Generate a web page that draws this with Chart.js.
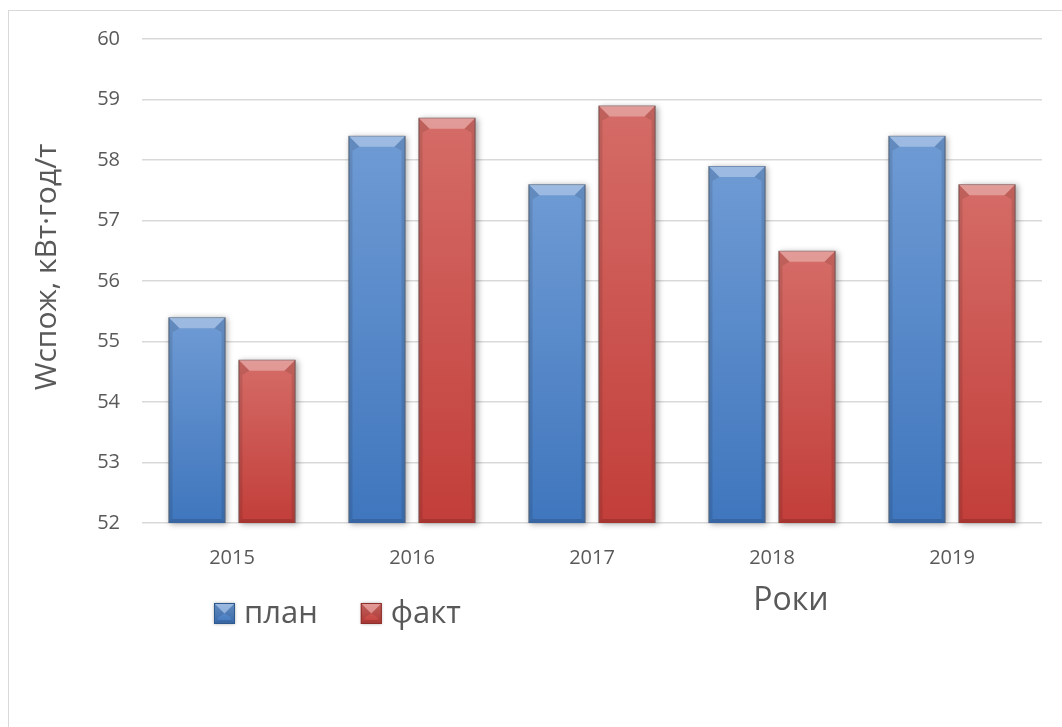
<!DOCTYPE html>
<html>
<head>
<meta charset="utf-8">
<script src="https://cdn.jsdelivr.net/npm/chart.js@4.4.1/dist/chart.umd.min.js"></script>
<style>
  html, body { margin: 0; padding: 0; background: #fff; overflow: hidden; }
  #wrap { position: relative; width: 1062px; height: 727px; }
  #frame { position: absolute; left: 8px; top: 10px; width: 1200px; height: 900px;
           border: 1.5px solid #d9d9d9; box-sizing: border-box; }
  canvas { position: absolute; left: 0; top: 0; }
</style>
</head>
<body>
<div id="wrap">
  <div id="frame"></div>
  <canvas id="c" width="1062" height="727"></canvas>
</div>
<script>
// Specific electricity consumption by year
const years = ['2015', '2016', '2017', '2018', '2019'];
const planValues = [55.4, 58.4, 57.6, 57.9, 58.4];
const factValues = [54.7, 58.7, 58.9, 56.5, 57.6];
const seriesNames = ['план', 'факт'];
const yMin = 52, yMax = 60, yStep = 1;
const yAxisTitle = 'Wспож, кВт·год/т';
const xAxisTitle = 'Роки';

const FONT = '"Open Sans", "Noto Sans", sans-serif';
const TEXT = '#595959';
const GRID = '#d9d9d9';

const palette = [
  { top: '#6f9bd4', bottom: '#3f76bd', border: '#2f588d' },
  { top: '#d56c67', bottom: '#c23e3a', border: '#8c2f2c' }
];

function barGradient(ctx, top, bottom, colors) {
  const g = ctx.createLinearGradient(0, top, 0, bottom);
  g.addColorStop(0, colors.top);
  g.addColorStop(1, colors.bottom);
  return g;
}

function scriptedFill(i) {
  return (c) => {
    const chart = c.chart;
    const pal = palette[i];
    if (!chart.chartArea || c.raw == null) return pal.bottom;
    const y = chart.scales.y;
    return barGradient(chart.ctx, y.getPixelForValue(c.raw), y.getPixelForValue(yMin), pal);
  };
}

// vertical extent of a bar, limited to the plot area
function barBox(chart, el) {
  const floor = chart.scales.y.getPixelForValue(yMin);
  return { l: el.x - el.width / 2, r: el.x + el.width / 2, t: el.y, b: Math.min(el.base, floor) };
}

// bevelled edges on top of each bar
function drawBevel(ctx, l, t, r, b) {
  const h = b - t, w = r - l;
  const tb = Math.min(11, h / 2, w / 2);
  const sb = Math.min(4, w / 4);
  const bb = Math.min(4, h / 4);
  ctx.save();
  ctx.fillStyle = 'rgba(255,255,255,0.32)';
  ctx.beginPath();
  ctx.moveTo(l, t); ctx.lineTo(r, t); ctx.lineTo(r - tb, t + tb); ctx.lineTo(l + tb, t + tb);
  ctx.closePath(); ctx.fill();
  ctx.fillStyle = 'rgba(0,0,0,0.10)';
  ctx.beginPath();
  ctx.moveTo(l, t); ctx.lineTo(l + tb, t + tb); ctx.lineTo(l + sb, t + tb + 4); ctx.lineTo(l + sb, b - bb); ctx.lineTo(l, b);
  ctx.closePath(); ctx.fill();
  ctx.beginPath();
  ctx.moveTo(r, t); ctx.lineTo(r - tb, t + tb); ctx.lineTo(r - sb, t + tb + 4); ctx.lineTo(r - sb, b - bb); ctx.lineTo(r, b);
  ctx.closePath(); ctx.fill();
  ctx.fillStyle = 'rgba(0,0,0,0.14)';
  ctx.beginPath();
  ctx.moveTo(l, b); ctx.lineTo(r, b); ctx.lineTo(r - sb, b - bb); ctx.lineTo(l + sb, b - bb);
  ctx.closePath(); ctx.fill();
  ctx.restore();
}

const bevelPlugin = {
  id: 'bevel',
  beforeDatasetsDraw(chart) {
    const ctx = chart.ctx;
    ctx.save();
    chart.data.datasets.forEach((ds, i) => {
      chart.getDatasetMeta(i).data.forEach((el) => {
        const bx = barBox(chart, el);
        ctx.shadowColor = 'rgba(0,0,0,0.35)';
        ctx.shadowBlur = 6;
        ctx.shadowOffsetX = 2;
        ctx.shadowOffsetY = 1;
        ctx.fillStyle = '#888';
        ctx.fillRect(bx.l, bx.t, bx.r - bx.l, bx.b - bx.t);
      });
    });
    ctx.restore();
  },
  afterDatasetsDraw(chart) {
    const ctx = chart.ctx;
    chart.data.datasets.forEach((ds, i) => {
      chart.getDatasetMeta(i).data.forEach((el) => {
        const bx = barBox(chart, el);
        drawBevel(ctx, bx.l, bx.t, bx.r, bx.b);
      });
    });
  }
};

// legend row and the two axis titles
const legendPlugin = {
  id: 'legendRow',
  afterDraw(chart) {
    const ctx = chart.ctx;
    const area = chart.chartArea;
    ctx.save();
    ctx.font = '31px ' + FONT;
    ctx.textBaseline = 'alphabetic';
    let x = area.left + 72;
    const boxTop = area.bottom + 80, box = 21;
    chart.data.datasets.forEach((ds, i) => {
      const pal = palette[i];
      ctx.shadowColor = 'rgba(0,0,0,0.3)';
      ctx.shadowBlur = 3;
      ctx.fillStyle = barGradient(ctx, boxTop, boxTop + box, pal);
      ctx.fillRect(x, boxTop, box, box);
      ctx.shadowBlur = 0;
      ctx.shadowColor = 'transparent';
      drawBevel(ctx, x, boxTop, x + box, boxTop + box);
      ctx.strokeStyle = pal.border;
      ctx.lineWidth = 1;
      ctx.strokeRect(x + 0.5, boxTop + 0.5, box - 1, box - 1);
      ctx.fillStyle = TEXT;
      ctx.textAlign = 'left';
      ctx.fillText(ds.label, x + box + 9, boxTop + 20);
      x += box + 9 + ctx.measureText(ds.label).width + 43;
    });
    ctx.font = '32px ' + FONT;
    ctx.fillStyle = TEXT;
    ctx.textAlign = 'center';
    ctx.fillText(xAxisTitle, area.left + 649, area.bottom + 87);

    // vertical axis title, reading bottom to top
    ctx.save();
    ctx.translate(area.left - 86, area.top + 228);
    ctx.rotate(-Math.PI / 2);
    ctx.font = '30px ' + FONT;
    ctx.textAlign = 'center';
    ctx.fillText(yAxisTitle, 0, 0);
    ctx.restore();
    ctx.restore();
  }
};

new Chart(document.getElementById('c'), {
  type: 'bar',
  data: {
    labels: years,
    datasets: [
      { label: seriesNames[0], data: planValues, backgroundColor: scriptedFill(0),
        borderColor: palette[0].border, borderWidth: 1 },
      { label: seriesNames[1], data: factValues, backgroundColor: scriptedFill(1),
        borderColor: palette[1].border, borderWidth: 1 }
    ]
  },
  options: {
    responsive: false,
    animation: false,
    devicePixelRatio: 1,
    layout: { padding: { left: 0, right: 20, top: 39, bottom: 144 } },
    datasets: { bar: { categoryPercentage: 0.778, barPercentage: 0.814 } },
    plugins: { legend: { display: false }, tooltip: { enabled: false } },
    scales: {
      x: {
        grid: { display: false },
        border: { display: false },
        ticks: { color: TEXT, font: { family: FONT, size: 20 }, padding: 15 },
        afterFit(s) { s.height = 60; }
      },
      y: {
        min: yMin, max: yMax,
        ticks: { stepSize: yStep, color: TEXT, font: { family: FONT, size: 20 }, padding: 22 },
        grid: { color: GRID, lineWidth: 1.5, drawTicks: false },
        border: { display: false },
        afterFit(s) { s.width = 142; }
      }
    }
  },
  plugins: [bevelPlugin, legendPlugin]
});
</script>
</body>
</html>
